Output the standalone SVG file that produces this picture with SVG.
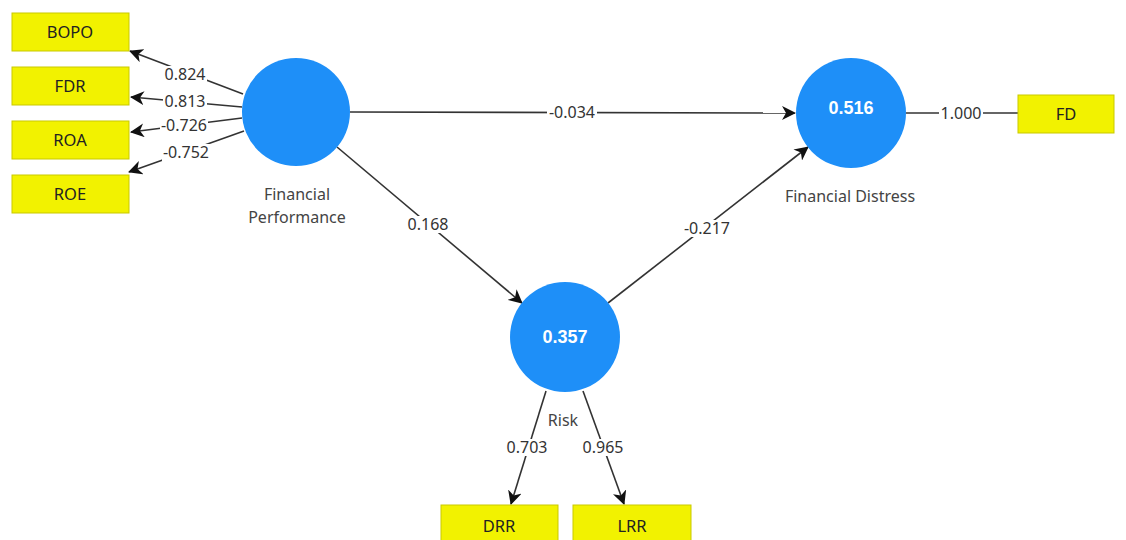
<svg xmlns="http://www.w3.org/2000/svg" width="1126" height="540" viewBox="0 0 1126 540">
<style>
.box{fill:#f2f200;stroke:#c9c900;stroke-width:1}
.bt{font-family:"Noto Sans","Open Sans",sans-serif;font-size:16.5px;fill:#222;text-anchor:middle}
.lv{fill:#1e8ff8}
.lvt{font-family:"Liberation Sans",Arial,sans-serif;font-weight:bold;font-size:18px;fill:#fff;text-anchor:middle}
.nl{font-family:"Noto Sans","Open Sans",sans-serif;font-size:16px;fill:#444;text-anchor:middle}
.e{stroke:#333;stroke-width:1.6;fill:none}
.bg{fill:#fff}
.w{font-family:"Noto Sans","Open Sans",sans-serif;font-size:16px;fill:#333;text-anchor:middle}
</style>
<defs>
<marker id="ah" markerUnits="userSpaceOnUse" markerWidth="16" markerHeight="14" refX="13" refY="7" orient="auto">
<path d="M0,0 L14,7 L0,14 L4,7 Z" fill="#111"/>
</marker>
</defs>
<rect width="1126" height="540" fill="#fff"/>
<g id="connectors">
<line class="e" x1="243" y1="94" x2="130" y2="51" marker-end="url(#ah)"/>
<line class="e" x1="242" y1="107" x2="131" y2="97" marker-end="url(#ah)"/>
<line class="e" x1="242" y1="118" x2="131" y2="132" marker-end="url(#ah)"/>
<line class="e" x1="244" y1="131" x2="129" y2="172" marker-end="url(#ah)"/>
<line class="e" x1="350" y1="112" x2="795" y2="113" marker-end="url(#ah)"/>
<line class="e" x1="337" y1="147" x2="522" y2="303" marker-end="url(#ah)"/>
<line class="e" x1="608" y1="303" x2="808" y2="147" marker-end="url(#ah)"/>
<line class="e" x1="906" y1="113" x2="1018" y2="113"/>
<line class="e" x1="546" y1="391" x2="511" y2="504" marker-end="url(#ah)"/>
<line class="e" x1="583" y1="391" x2="624" y2="504" marker-end="url(#ah)"/>
<rect class="bg" x="163" y="66" width="44" height="17"/>
<rect class="bg" x="163" y="93" width="44" height="17"/>
<rect class="bg" x="160" y="117" width="48" height="17"/>
<rect class="bg" x="162" y="144" width="48" height="17"/>
<rect class="bg" x="547" y="104" width="50" height="17"/>
<rect class="bg" x="406" y="216" width="44" height="17"/>
<rect class="bg" x="683" y="220" width="48" height="17"/>
<rect class="bg" x="939" y="105" width="44" height="17"/>
<rect class="bg" x="505" y="439" width="44" height="17"/>
<rect class="bg" x="581" y="439" width="44" height="17"/>
<text class="w" x="185" y="80">0.824</text>
<text class="w" x="185" y="107">0.813</text>
<text class="w" x="184" y="131">-0.726</text>
<text class="w" x="186" y="158">-0.752</text>
<text class="w" x="572" y="118">-0.034</text>
<text class="w" x="428" y="230">0.168</text>
<text class="w" x="707" y="234">-0.217</text>
<text class="w" x="961" y="119">1.000</text>
<text class="w" x="527" y="453">0.703</text>
<text class="w" x="603" y="453">0.965</text>
</g>
<g id="BOPO"><rect class="box" x="12" y="13" width="117" height="38"/><text class="bt" x="70" y="38">BOPO</text></g>
<g id="FDR"><rect class="box" x="12" y="67" width="117" height="38"/><text class="bt" x="70" y="92">FDR</text></g>
<g id="ROA"><rect class="box" x="12" y="121" width="117" height="38"/><text class="bt" x="70" y="146">ROA</text></g>
<g id="ROE"><rect class="box" x="12" y="175" width="117" height="38"/><text class="bt" x="70" y="200">ROE</text></g>
<g id="FD"><rect class="box" x="1018" y="95" width="96" height="38"/><text class="bt" x="1066" y="120">FD</text></g>
<g id="DRR"><rect class="box" x="441" y="505" width="117" height="40"/><text class="bt" x="499" y="532">DRR</text></g>
<g id="LRR"><rect class="box" x="573" y="505" width="118" height="40"/><text class="bt" x="632" y="532">LRR</text></g>
<g id="FinancialPerformance"><circle class="lv" cx="296" cy="112" r="54"/><text class="nl" x="297" y="200">Financial</text><text class="nl" x="297" y="223">Performance</text></g>
<g id="FinancialDistress"><circle class="lv" cx="851" cy="113" r="55"/><text class="lvt" x="851" y="114">0.516</text><text class="nl" x="850" y="202">Financial Distress</text></g>
<g id="Risk"><circle class="lv" cx="565" cy="337" r="55"/><text class="lvt" x="565" y="343">0.357</text><text class="nl" x="563" y="426">Risk</text></g>
</svg>
